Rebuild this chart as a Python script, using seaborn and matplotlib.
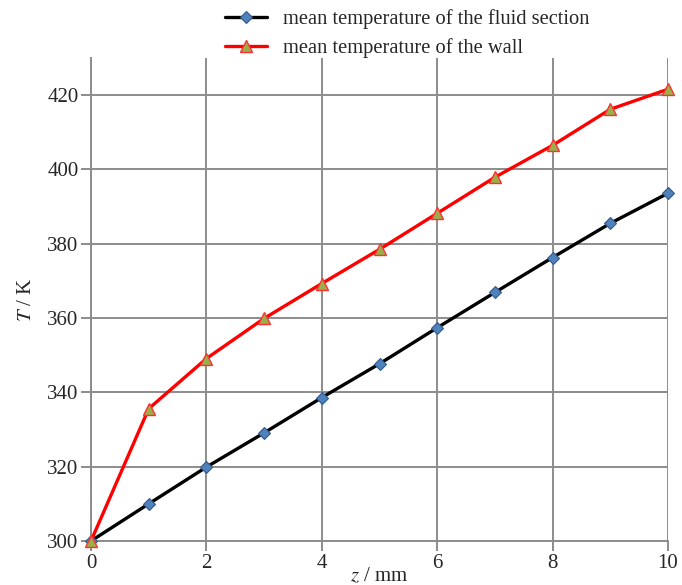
import matplotlib
matplotlib.use("Agg")
import matplotlib.pyplot as plt
import seaborn as sns
import pandas as pd

# z positions (mm) and mean temperatures (K)
z = [0, 1, 2, 3, 4, 5, 6, 7, 8, 9, 10]
t_fluid = [300.0, 310.0, 319.9, 329.1, 338.6, 347.7, 357.4, 366.9, 376.3, 385.5, 393.6]
t_wall = [300.0, 335.6, 349.1, 359.9, 369.3, 378.5, 388.2, 397.9, 406.5, 416.2, 421.6]
y_ticks = [300, 320, 340, 360, 380, 400, 420]
x_ticks = [0, 2, 4, 6, 8, 10]

sns.set_style("white")
plt.rcParams["font.family"] = ["Liberation Serif", "DejaVu Serif"]
plt.rcParams["mathtext.fontset"] = "stix"
# seaborn's white style switches the tick marks off
plt.rcParams["xtick.bottom"] = True
plt.rcParams["ytick.left"] = True
plt.rcParams["xtick.major.size"] = 7
plt.rcParams["ytick.major.size"] = 7

fig = plt.figure(figsize=(6.82, 5.85), dpi=100)
ax = fig.add_axes([91 / 682, 1 - 541 / 585, 577 / 682, (541 - 58) / 585])

df = pd.DataFrame({"z": z, "fluid": t_fluid, "wall": t_wall})

sns.lineplot(data=df, x="z", y="fluid", ax=ax, color="black", linewidth=2.4,
             marker="D", markersize=6, markerfacecolor="#4f81bd",
             markeredgecolor="#2f5a8a", markeredgewidth=0.8,
             label="mean temperature of the fluid section", clip_on=False, zorder=4)
sns.lineplot(data=df, x="z", y="wall", ax=ax, color="#ff0000", linewidth=2.4,
             marker="^", markersize=8, markerfacecolor="#9bae4a",
             markeredgecolor="#ff3030", markeredgewidth=1.0,
             label="mean temperature of the wall", clip_on=False, zorder=5)

ax.set_xlim(0, 10)
ax.set_ylim(300, 430)
ax.set_xticks(x_ticks)
ax.set_yticks(y_ticks)
ax.grid(True, color="#8c8c8c", linewidth=1.4)
ax.set_axisbelow(True)
for s in ["top", "right"]:
    ax.spines[s].set_visible(False)
for s in ["left", "bottom"]:
    ax.spines[s].set_color("#8c8c8c")
    ax.spines[s].set_linewidth(1.4)
ax.tick_params(axis="both", direction="out", length=7, width=1.4, color="#8c8c8c",
               labelsize=15, pad=2, left=True, bottom=True)
ax.set_xlabel("$z$ / mm", fontsize=15, labelpad=-4)
ax.set_ylabel("$T$ / K", fontsize=15, labelpad=8)

handles, labels = ax.get_legend_handles_labels()
ax.get_legend().remove()
fig.legend(handles, labels, loc="upper left", bbox_to_anchor=(211 / 682, 1 + 5 / 585),
           frameon=False, fontsize=14.8, handlelength=2.0, handletextpad=0.8,
           labelspacing=0.45, borderpad=0.2)

fig.savefig("out.png", dpi=100)
